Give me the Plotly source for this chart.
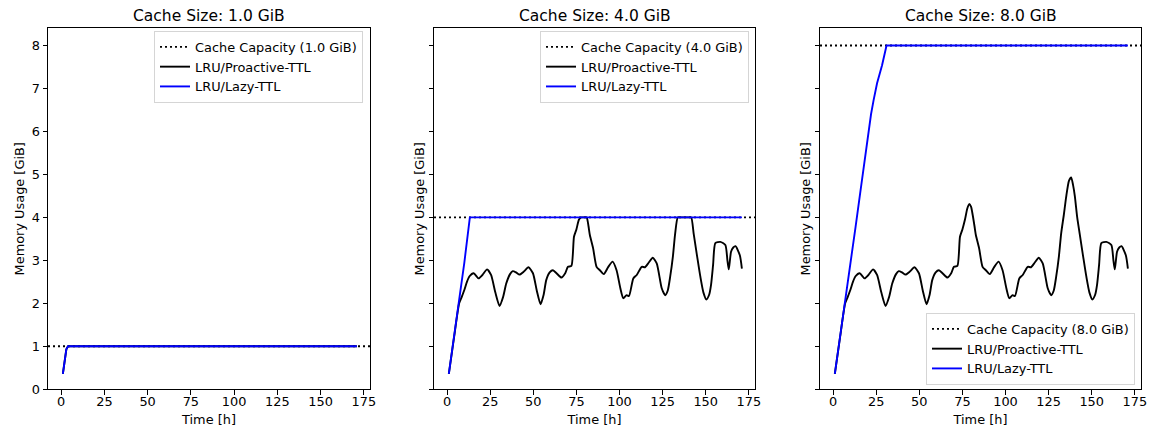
import plotly.graph_objects as go

# ---------------- data ----------------
cache_sizes_gib = [1.0, 4.0, 8.0]
panel_titles = ["Cache Size: 1.0 GiB", "Cache Size: 4.0 GiB", "Cache Size: 8.0 GiB"]
x_ticks = [0, 25, 50, 75, 100, 125, 150, 175]
y_ticks = [0, 1, 2, 3, 4, 5, 6, 7, 8]

# LRU/Lazy-TTL (blue)
lazy_t_1 = [1, 2, 3, 4, 171]
lazy_v_1 = [0.36, 0.66, 0.93, 1.0, 1.0]
lazy_t_4 = [1, 4, 7, 10, 13.2, 171]
lazy_v_4 = [0.36, 1.2, 2.0, 2.95, 4.0, 4.0]
lazy_t_8 = [1, 4, 7, 10, 13, 16, 18, 20, 22, 23.5, 25.5, 28.4, 31, 171]
lazy_v_8 = [0.36, 1.2, 2.0, 2.9, 3.77, 4.65, 5.25, 5.9, 6.4, 6.73, 7.12, 7.54, 8.0, 8.0]

# LRU/Proactive-TTL (black)
pro_t_1 = [1, 2, 3, 4, 171]
pro_v_1 = [0.36, 0.66, 0.93, 1.0, 1.0]

pro_t = [1, 4, 7, 8.5, 10, 11.5, 13, 15.4, 18.3, 20.5, 23.2, 25.5, 28, 30.4, 32.5,
         34.3, 36.5, 38.1, 40, 42, 44.5, 47.2, 49.8, 52, 54.2, 56, 57.5, 59.5, 61.4,
         63.5, 66.3, 68.5, 70.1, 72.1, 73.6, 75, 76.5, 77.8, 78.9, 80, 81, 82, 82.8,
         84.7, 86.7, 88.6, 90.9, 93.5, 96, 98.3, 100.5, 102.2, 104.1, 105.5, 108, 110,
         112.9, 114.8, 117, 119.3, 121.6, 124.5, 126.5, 128, 129.4, 131, 132.3, 133.8,
         135.2, 136.8, 138.1, 139.2, 140.2, 141.6, 143, 145, 146.9, 148.7, 150.4, 152,
         153.1, 154.3, 155.6, 158.5, 161.4, 162.6, 163.4, 164.7, 166, 167.3, 169.8, 171]

pro_v_8 = [0.36, 1.2, 2.0, 2.15, 2.31, 2.5, 2.63, 2.70, 2.58, 2.66, 2.79, 2.66, 2.25, 1.94, 2.15,
           2.46, 2.68, 2.75, 2.72, 2.67, 2.74, 2.84, 2.70, 2.3, 1.98, 2.2, 2.54, 2.72, 2.77,
           2.7, 2.60, 2.7, 2.85, 2.87, 3.55, 3.72, 3.95, 4.2, 4.31, 4.25, 4.05, 3.8, 3.59,
           3.28, 2.85, 2.77, 2.68, 2.85, 2.97, 2.77, 2.35, 2.12, 2.19, 2.17, 2.58, 2.66,
           2.85, 2.84, 2.95, 3.06, 2.93, 2.35, 2.19, 2.3, 2.62, 3.1, 3.63, 4.05,
           4.48, 4.85, 4.93, 4.75, 4.5, 4.0, 3.63, 3.1, 2.62, 2.25, 2.09, 2.2,
           2.43, 2.9, 3.40, 3.43, 3.36, 3.0, 2.79, 3.2, 3.3, 3.33, 3.12, 2.81]

pro_v_4 = [0.36, 1.2, 2.0, 2.15, 2.31, 2.5, 2.63, 2.70, 2.58, 2.66, 2.79, 2.66, 2.25, 1.94, 2.15,
           2.46, 2.68, 2.75, 2.72, 2.67, 2.74, 2.84, 2.70, 2.3, 1.98, 2.2, 2.54, 2.72, 2.77,
           2.7, 2.60, 2.7, 2.85, 2.87, 3.55, 3.72, 3.95, 4.0, 4.0, 4.0, 4.0, 3.8, 3.59,
           3.28, 2.85, 2.77, 2.68, 2.85, 2.97, 2.77, 2.35, 2.12, 2.19, 2.17, 2.58, 2.66,
           2.85, 2.84, 2.95, 3.06, 2.93, 2.35, 2.19, 2.3, 2.62, 3.1, 3.63, 4.0,
           4.0, 4.0, 4.0, 4.0, 4.0, 4.0, 3.63, 3.1, 2.62, 2.25, 2.09, 2.2,
           2.43, 2.9, 3.40, 3.43, 3.36, 3.0, 2.79, 3.2, 3.3, 3.33, 3.12, 2.81]

pro_series = [(pro_t_1, pro_v_1), (pro_t, pro_v_4), (pro_t, pro_v_8)]
lazy_series = [(lazy_t_1, lazy_v_1), (lazy_t_4, lazy_v_4), (lazy_t_8, lazy_v_8)]

# ---------------- layout geometry ----------------
W, H = 1153, 436
FONT = "DejaVu Sans"
FS = 12.9
x_range = [-7.6, 178.6]
y_range = [0, 8.4]
x_domains = [[48 / W, 370 / W], [434 / W, 755 / W], [820 / W, 1141 / W]]
y_domain = [(H - 389.3) / H, (H - 28.3) / H]

fig = go.Figure()

suffix = ["", "2", "3"]
legend_names = ["legend", "legend2", "legend3"]

for i in range(3):
    xa = "x" + suffix[i]
    ya = "y" + suffix[i]
    cap = cache_sizes_gib[i]
    fig.add_shape(type="line", xref=xa + " domain", yref=ya, x0=0, x1=1, y0=cap, y1=cap,
                  line=dict(color="black", width=1.9, dash="2px,3px"), layer="below",
                  showlegend=True, legend=legend_names[i], legendrank=1,
                  name=f"Cache Capacity ({cap:.1f} GiB)")
    pt, pv = pro_series[i]
    shape = "linear" if i == 0 else "spline"
    fig.add_trace(go.Scatter(x=pt, y=pv, xaxis=xa, yaxis=ya, mode="lines",
                             line=dict(color="black", width=1.9, shape=shape, smoothing=0.6),
                             name="LRU/Proactive-TTL", legend=legend_names[i], legendrank=2))
    lt, lv = lazy_series[i]
    fig.add_trace(go.Scatter(x=lt, y=lv, xaxis=xa, yaxis=ya, mode="lines",
                             line=dict(color="blue", width=1.9),
                             name="LRU/Lazy-TTL", legend=legend_names[i], legendrank=3))

axis_common = dict(showline=True, linecolor="black", linewidth=1, mirror=True,
                   ticks="outside", ticklen=4.5, tickwidth=1, tickcolor="black",
                   showgrid=False, zeroline=False, automargin=False,
                   tickfont=dict(family=FONT, size=FS, color="black"))

layout = dict(width=W, height=H, margin=dict(l=0, r=0, t=0, b=0, autoexpand=False),
              paper_bgcolor="white", plot_bgcolor="white",
              font=dict(family=FONT, size=FS, color="black"))

for i in range(3):
    xk = "xaxis" + suffix[i]
    yk = "yaxis" + suffix[i]
    layout[xk] = dict(axis_common, domain=x_domains[i], range=x_range, tickvals=x_ticks,
                      anchor="y" + suffix[i], ticklabelstandoff=-4,
                      title=dict(text="Time [h]", font=dict(family=FONT, size=FS, color="black"),
                                 standoff=6))
    layout[yk] = dict(axis_common, domain=y_domain, range=y_range, tickvals=y_ticks,
                      anchor="x" + suffix[i], showticklabels=(i == 0),
                      title=dict(text="Memory Usage [GiB]",
                                 font=dict(family=FONT, size=FS, color="black"),
                                 standoff=4 if i == 0 else 0))

legend_common = dict(bgcolor="rgba(255,255,255,0.8)", bordercolor="#d5d5d5", borderwidth=1,
                     font=dict(family=FONT, size=FS, color="black"), traceorder="normal")
layout["legend"] = dict(legend_common, x=363 / W, y=1 - 31 / H, xanchor="right", yanchor="top")
layout["legend2"] = dict(legend_common, x=749 / W, y=1 - 31 / H, xanchor="right", yanchor="top")
layout["legend3"] = dict(legend_common, x=1135 / W, y=1 - 385 / H, xanchor="right", yanchor="bottom")

annotations = []
for i in range(3):
    annotations.append(dict(text=panel_titles[i], xref="paper", yref="paper",
                            x=(x_domains[i][0] + x_domains[i][1]) / 2, y=1 - 16.5 / H,
                            xanchor="center", yanchor="middle", showarrow=False,
                            font=dict(family=FONT, size=15.5, color="black")))
layout["annotations"] = annotations

fig.update_layout(**layout)
fig.write_html("out.html")
